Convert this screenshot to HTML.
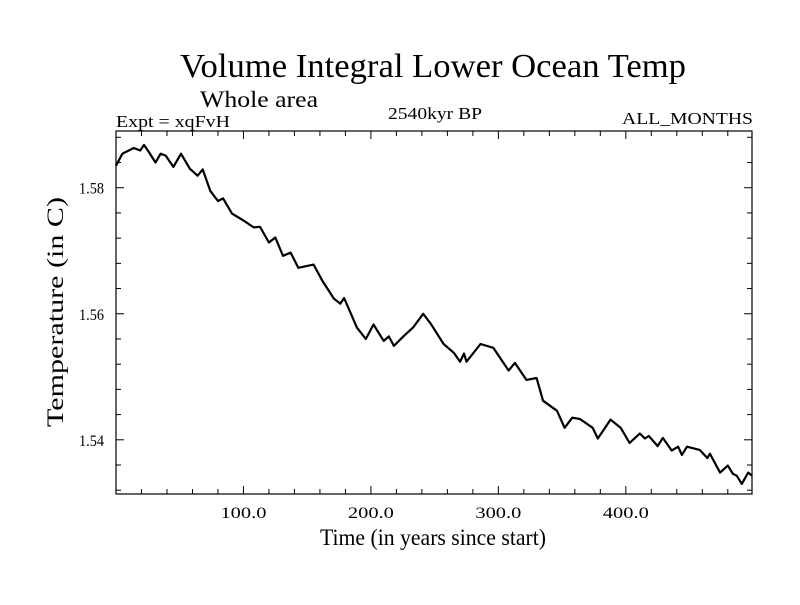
<!DOCTYPE html>
<html><head><meta charset="utf-8"><style>
body{margin:0;background:#fff;}
svg text{font-family:"Liberation Serif",serif;fill:#000;}
</style></head><body>
<svg id="chart" width="800" height="600">
<text x="433" y="77" font-size="34" text-anchor="middle" textLength="506" lengthAdjust="spacingAndGlyphs">Volume Integral Lower Ocean Temp</text>
<text x="259" y="107" font-size="23" text-anchor="middle" textLength="118" lengthAdjust="spacingAndGlyphs">Whole area</text>
<text x="116" y="127" font-size="17" textLength="114" lengthAdjust="spacingAndGlyphs">Expt = xqFvH</text>
<text x="435" y="119" font-size="17" text-anchor="middle" textLength="94" lengthAdjust="spacingAndGlyphs">2540kyr BP</text>
<text x="753" y="124" font-size="17" text-anchor="end" textLength="131" lengthAdjust="spacingAndGlyphs">ALL_MONTHS</text>
<rect x="116" y="131" width="636" height="363" fill="none" stroke="#000" stroke-width="1.2"/>
<g id="ticks"></g>
<path id="line" fill="none" stroke="#000" stroke-width="2.2" stroke-linejoin="round"/>
<text x="433" y="545" font-size="23" text-anchor="middle" textLength="226" lengthAdjust="spacingAndGlyphs">Time (in years since start)</text>
<text transform="translate(63,312) rotate(-90)" font-size="23" text-anchor="middle" textLength="230" lengthAdjust="spacingAndGlyphs">Temperature (in C)</text>
</svg>
<script>
const years=[0,5,14,19,22,26,31,35,39,45,51,58,64,68,74,80,84,91,100,108,113,120,125,131,137,143,155,162,171,176,179,189,196,202,210,214,218,226,233,241,247,257,265,270,273,275,286,296,308,313,322,330,335,346,352,358,364,374,378,382,388,396,403,411,415,418,425,429,436,441,444,448,458,464,466,474,480,484,487,491,496,499];
const temps=[1.5835,1.5854,1.5863,1.5859,1.5868,1.5856,1.5840,1.5854,1.5851,1.5833,1.5854,1.5830,1.5819,1.5829,1.5795,1.5779,1.5783,1.5759,1.5748,1.5737,1.5738,1.5713,1.5721,1.5692,1.5697,1.5673,1.5678,1.5652,1.5624,1.5616,1.5625,1.5578,1.5560,1.5583,1.5557,1.5564,1.5549,1.5565,1.5578,1.5600,1.5584,1.5552,1.5538,1.5524,1.5537,1.5524,1.5552,1.5546,1.5510,1.5522,1.5495,1.5498,1.5462,1.5446,1.5419,1.5435,1.5433,1.5419,1.5402,1.5414,1.5432,1.5419,1.5395,1.5410,1.5402,1.5406,1.5390,1.5403,1.5383,1.5389,1.5376,1.5389,1.5384,1.5371,1.5378,1.5348,1.5359,1.5346,1.5343,1.5330,1.5348,1.5343];
const xTicks=[100,200,300,400];
const xTickLabels=["100.0","200.0","300.0","400.0"];
const yTicks=[1.54,1.56,1.58];
const yTickLabels=["1.54","1.56","1.58"];
const X0=116,X1=752,Y0=494,Y1=131;
const xMin=0,xMax=499,yMin=1.5314,yMax=1.5890;
function sx(v){return X0+(v-xMin)/(xMax-xMin)*(X1-X0);}
function sy(v){return Y0-(v-yMin)/(yMax-yMin)*(Y0-Y1);}
const NS="http://www.w3.org/2000/svg";
const g=document.getElementById('ticks');
function ln(x1,y1,x2,y2,name){const l=document.createElementNS(NS,'line');l.setAttribute('x1',x1);l.setAttribute('y1',y1);l.setAttribute('x2',x2);l.setAttribute('y2',y2);l.setAttribute('stroke','#000');l.setAttribute('stroke-width','1');


g.appendChild(l);}
function tx(x,y,s,anchor,len,name){const t=document.createElementNS(NS,'text');t.setAttribute('x',x);t.setAttribute('y',y);t.setAttribute('font-size','16');t.setAttribute('text-anchor',anchor);t.setAttribute('textLength',len);t.setAttribute('lengthAdjust','spacingAndGlyphs');t.textContent=s;


g.appendChild(t);}
for(let v=20;v<xMax;v+=20){const x=sx(v);const major=v%100===0;const L=major?8:5;ln(x,Y0,x,Y0-L,'x-tick');ln(x,Y1,x,Y1+L,'x-tick-top');}
for(let v=1.532;v<yMax;v+=0.004){const y=sy(v);const major=Math.abs(Math.round(v*50)-v*50)<1e-6;const L=major?8:5;ln(X0,y,X0+L,y,'y-tick');ln(X1,y,X1-L,y,'y-tick-right');}
xTicks.forEach((v,i)=>tx(sx(v),518,xTickLabels[i],'middle',46,'x-tick-label'));
yTicks.forEach((v,i)=>tx(104,sy(v)+6,yTickLabels[i],'end',25,'y-tick-label'));
let d='';years.forEach((yr,i)=>{d+=(i?'L':'M')+sx(yr).toFixed(1)+','+sy(temps[i]).toFixed(1);});
document.getElementById('line').setAttribute('d',d);
</script>
</body></html>
